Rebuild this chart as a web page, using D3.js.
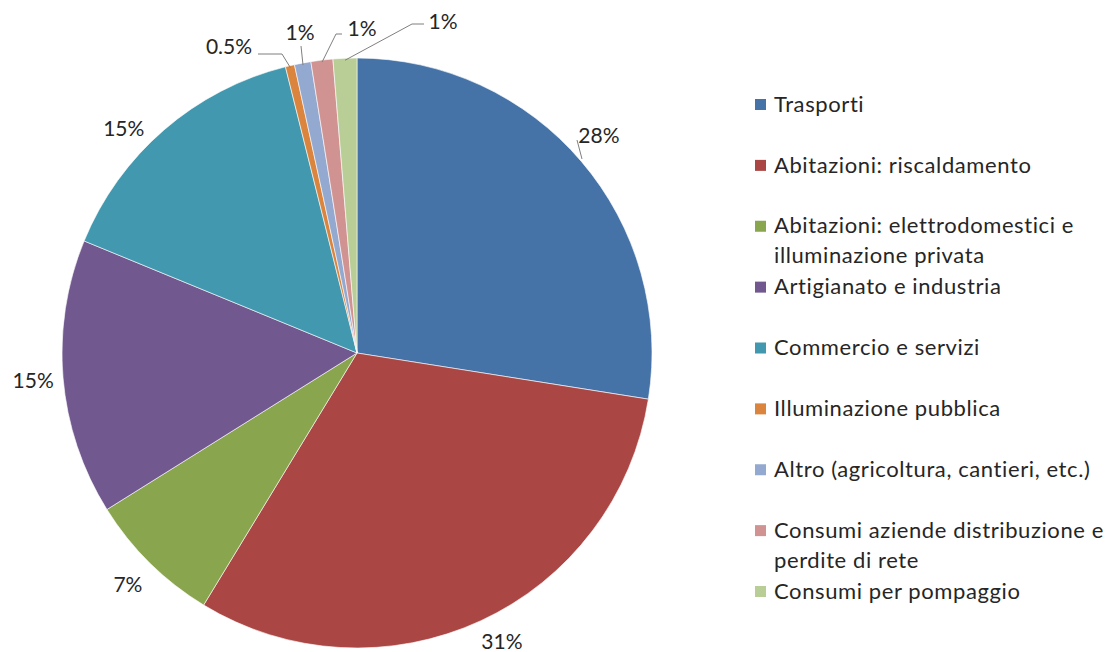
<!DOCTYPE html>
<html><head><meta charset="utf-8">
<script src="https://cdn.jsdelivr.net/npm/d3@7"></script>
<style>html,body{margin:0;padding:0;background:#fff;}svg{display:block;}</style>
</head><body>
<svg id="chart" width="1109" height="652"></svg>
<script>
// Data
const categories = [
  "Trasporti",
  "Abitazioni: riscaldamento",
  "Abitazioni: elettrodomestici e illuminazione privata",
  "Artigianato e industria",
  "Commercio e servizi",
  "Illuminazione pubblica",
  "Altro (agricoltura, cantieri, etc.)",
  "Consumi aziende distribuzione e perdite di rete",
  "Consumi per pompaggio"
];
const values = [27.5, 31.2, 7.4, 15.1, 14.9, 0.5, 0.9, 1.2, 1.3];
const valueLabels = ["28%", "31%", "7%", "15%", "15%", "0.5%", "1%", "1%", "1%"];
const legendLines = [
  ["Trasporti"],
  ["Abitazioni: riscaldamento"],
  ["Abitazioni: elettrodomestici e", "illuminazione privata"],
  ["Artigianato e industria"],
  ["Commercio e servizi"],
  ["Illuminazione pubblica"],
  ["Altro (agricoltura, cantieri, etc.)"],
  ["Consumi aziende distribuzione e", "perdite di rete"],
  ["Consumi per pompaggio"]
];
const colors = ["#4572A7","#AA4643","#89A54E","#71588F","#4198AF","#DB843D","#93A9CF","#D19392","#B9CD96"];

const svg = d3.select("#chart");
const cx = 357, cy = 353, R = 295;
const FONT = "Lato, 'Open Sans', sans-serif";
const TXT = "#262626";

const pie = d3.pie().sort(null).value(d => d);
const arcs = pie(values);
const arc = d3.arc().innerRadius(0).outerRadius(R);
const g = svg.append("g").attr("transform", `translate(${cx},${cy})`);

g.selectAll("path.slice").data(arcs).join("path")
  .attr("class", "slice")
  .attr("d", arc)
  .attr("fill", (d, i) => colors[i])
  .attr("stroke", "#fff").attr("stroke-width", 0.6);

// Labels for big slices: along the mid-angle, with Excel-like placement nudges
const labelArc = d3.arc().innerRadius(326).outerRadius(326);
const nudge = {0: [-6, -6], 1: [8, -7], 2: [0, 0], 3: [1, 0], 4: [-20, 22]};
const big = arcs.map((d, i) => ({d, i})).filter(o => values[o.i] >= 5);
g.selectAll("text.lbl").data(big).join("text")
  .attr("class", "lbl")
  .attr("x", o => labelArc.centroid(o.d)[0] + nudge[o.i][0])
  .attr("y", o => labelArc.centroid(o.d)[1] + nudge[o.i][1])
  .attr("text-anchor", "middle").attr("dy", "0.35em")
  .attr("font-family", FONT).attr("font-size", 21).attr("fill", TXT)
  .text(o => valueLabels[o.i]);

// Leader tick for 28% label
g.append("line")
  .attr("x1", 220).attr("y1", -213).attr("x2", 225).attr("y2", -194)
  .attr("stroke", "#7f7f7f").attr("stroke-width", 1);

// Small slices: labels placed above with leader lines
const smallPlacement = [
  {idx: 5, tx: -128, ty: -306, path: [[-99, -299], [-75, -299]]},
  {idx: 6, tx: -57, ty: -320, path: [[-56, -307]]},
  {idx: 7, tx: 5, ty: -324, path: [[-15, -319], [-21, -319]]},
  {idx: 8, tx: 86, ty: -331, path: [[67, -329], [55, -329]]}
];
smallPlacement.forEach(p => {
  const a = arcs[p.idx];
  const m = (a.startAngle + a.endAngle) / 2;
  const edge = [Math.sin(m) * (R - 2), -Math.cos(m) * (R - 2)];
  const pts = p.path.concat([edge]);
  g.append("path")
    .attr("d", d3.line()(pts))
    .attr("fill", "none").attr("stroke", "#7f7f7f").attr("stroke-width", 1);
  g.append("text")
    .attr("x", p.tx).attr("y", p.ty).attr("dy", "0.35em")
    .attr("text-anchor", "middle")
    .attr("font-family", FONT).attr("font-size", 21).attr("fill", TXT)
    .text(valueLabels[p.idx]);
});

// Legend
const legY = d3.scaleLinear().domain([0, categories.length - 1]).range([104, 591]);
const leg = svg.append("g");
const items = leg.selectAll("g.item").data(categories).join("g")
  .attr("class", "item")
  .attr("transform", (d, i) => `translate(755,${legY(i)})`);
items.append("rect")
  .attr("x", 0).attr("y", -5).attr("width", 11).attr("height", 11)
  .attr("fill", (d, i) => colors[i]);
items.each(function(d, i) {
  const t = d3.select(this).append("text")
    .attr("font-family", FONT).attr("font-size", 22).attr("letter-spacing", 0.6).attr("fill", TXT);
  legendLines[i].forEach((ln, k) => {
    t.append("tspan").attr("x", 19).attr("y", k * 30).attr("dy", "0.35em").text(ln);
  });
});
</script>
</body></html>
